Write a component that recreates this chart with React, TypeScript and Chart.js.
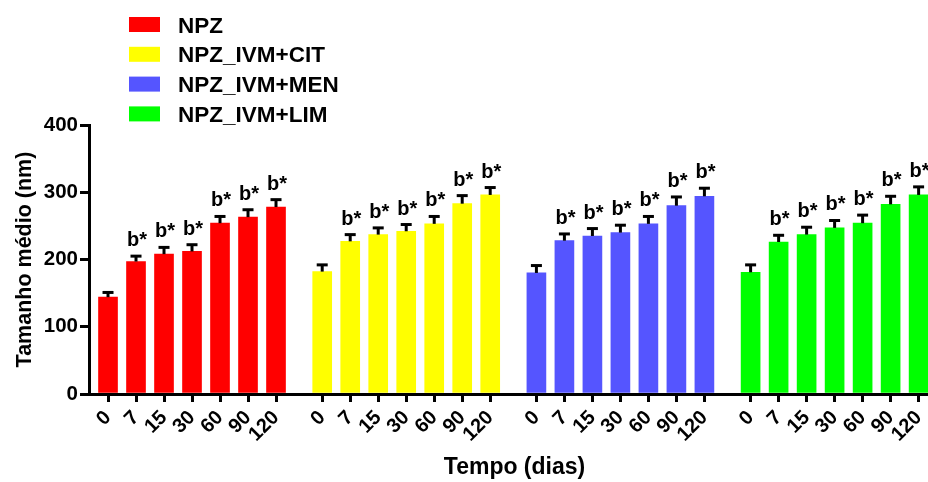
import { useEffect, useRef } from "react";
import { Chart, registerables } from "chart.js";

Chart.register(...registerables);

// ---- data ----
const timeLabels = ["0", "7", "15", "30", "60", "90", "120"];
const groupNames = ["NPZ", "NPZ_IVM+CIT", "NPZ_IVM+MEN", "NPZ_IVM+LIM"];

const npzValues = [144, 197, 208, 212, 254, 263, 278];
const npzErrors = [7, 8, 10, 10, 10, 11, 11];
const citValues = [182, 227, 237, 242, 253, 283, 296];
const citErrors = [10, 10, 10, 10, 11, 12, 11];
const menValues = [180, 228, 235, 240, 253, 280, 294];
const menErrors = [11, 10, 11, 11, 11, 13, 12];
const limValues = [181, 226, 237, 247, 254, 282, 296];
const limErrors = [11, 10, 11, 11, 12, 12, 12];

const sigLabels = ["", "b*", "b*", "b*", "b*", "b*", "b*"];
const yTicks = [0, 100, 200, 300, 400];

const groupValues = [npzValues, citValues, menValues, limValues];
const groupErrors = [npzErrors, citErrors, menErrors, limErrors];
const groupColors = ["#FF0000", "#FFFF00", "#5555FF", "#00FF00"];

const FONT = '"Liberation Sans", Arial, Helvetica, sans-serif';
const GROUP_STRIDE = 7.65;
const CANVAS_W = 940;
const X_MIN = -0.679;
const X_MAX = X_MIN + (CANVAS_W - 89) / 28;

const positions: number[] = [];
groupValues.forEach((vals, g) => vals.forEach((_, i) => positions.push(g * GROUP_STRIDE + i)));

const overlayPlugin = {
  id: "overlay",
  afterDatasetsDraw(chart: any) {
    const ctx = chart.ctx;
    const ys = chart.scales.y;
    chart.data.datasets.forEach((_: any, di: number) => {
      const meta = chart.getDatasetMeta(di);
      meta.data.forEach((bar: any, i: number) => {
        const v = groupValues[di][i];
        const e = groupErrors[di][i];
        const x = bar.x;
        const yTop = ys.getPixelForValue(v);
        const yErr = ys.getPixelForValue(v + e);
        ctx.save();
        ctx.strokeStyle = "#000";
        ctx.lineWidth = 3;
        ctx.beginPath();
        ctx.moveTo(x, yTop);
        ctx.lineTo(x, yErr);
        ctx.stroke();
        ctx.beginPath();
        ctx.moveTo(x - 5.5, yErr);
        ctx.lineTo(x + 5.5, yErr);
        ctx.stroke();
        if (sigLabels[i]) {
          ctx.font = `bold 20px ${FONT}`;
          ctx.fillStyle = "#000";
          ctx.textAlign = "center";
          ctx.textBaseline = "alphabetic";
          ctx.fillText(sigLabels[i], x + 1, yErr - 10);
        }
        ctx.restore();
      });
    });
  },
  afterDraw(chart: any) {
    const ctx = chart.ctx;
    ctx.save();
    groupNames.forEach((name, g) => {
      const cy = 24.5 + g * 29.8;
      ctx.fillStyle = groupColors[g];
      ctx.fillRect(129, cy - 7.5, 31, 15);
      ctx.fillStyle = "#000";
      ctx.font = `bold 22.5px ${FONT}`;
      ctx.textAlign = "left";
      ctx.textBaseline = "alphabetic";
      ctx.fillText(name, 178, cy + 8);
    });
    ctx.restore();
  },
};

export default function App() {
  const ref = useRef<HTMLCanvasElement | null>(null);

  useEffect(() => {
    if (!ref.current) return;
    const datasets = groupValues.map((vals, g) => ({
      label: groupNames[g],
      data: vals.map((v, i) => ({ x: g * GROUP_STRIDE + i, y: v })),
      backgroundColor: groupColors[g],
      borderWidth: 0,
      grouped: false,
      barThickness: 19,
    }));
    const chart = new Chart(ref.current, {
      type: "bar",
      data: { datasets: datasets as any },
      plugins: [overlayPlugin],
      options: {
        animation: false,
        responsive: false,
        devicePixelRatio: 1,
        layout: { padding: { top: 125, left: 0, right: 0, bottom: 0 } },
        plugins: { legend: { display: false }, tooltip: { enabled: false } },
        scales: {
          x: {
            type: "linear",
            min: X_MIN,
            max: X_MAX,
            offset: false,
            bounds: "data",
            afterBuildTicks: (scale: any) => {
              scale.ticks = positions.map((p) => ({ value: p }));
            },
            afterFit: (scale: any) => {
              scale.height = 88;
            },
            grid: {
              display: true,
              drawOnChartArea: false,
              drawTicks: true,
              tickLength: 8,
              color: "#000",
              lineWidth: 3,
              offset: false,
            },
            border: { display: true, color: "#000", width: 3 },
            ticks: {
              autoSkip: false,
              maxRotation: 45,
              minRotation: 45,
              padding: 4,
              color: "#000",
              font: { family: FONT, size: 20, weight: "bold" },
              callback: (_v: any, i: number) => timeLabels[i % timeLabels.length],
            },
            title: {
              display: true,
              text: "Tempo (dias)",
              color: "#000",
              font: { family: FONT, size: 23, weight: "bold" },
              padding: { top: 0, bottom: 1 },
            },
          },
          y: {
            min: 0,
            max: 400,
            afterBuildTicks: (scale: any) => {
              scale.ticks = yTicks.map((t) => ({ value: t }));
            },
            afterFit: (scale: any) => {
              scale.width = 89;
            },
            grid: {
              display: true,
              drawOnChartArea: false,
              drawTicks: true,
              tickLength: 9,
              color: "#000",
              lineWidth: 3,
            },
            border: { display: true, color: "#000", width: 3 },
            ticks: {
              padding: 2,
              color: "#000",
              font: { family: FONT, size: 20.5, weight: "bold" },
            },
            title: {
              display: true,
              text: "Tamanho médio (nm)",
              color: "#000",
              font: { family: FONT, size: 21.5, weight: "bold" },
              padding: { top: 12, bottom: 0 },
            },
          },
        },
      },
    });
    return () => chart.destroy();
  }, []);

  return (
    <div
      style={{
        position: "fixed",
        left: 0,
        top: 0,
        width: 928,
        height: 482,
        overflow: "hidden",
        background: "#fff",
      }}
    >
      <canvas ref={ref} width={CANVAS_W} height={482} style={{ display: "block" }} />
    </div>
  );
}
